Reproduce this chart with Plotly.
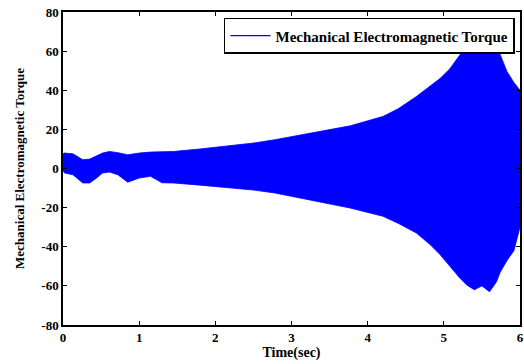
import plotly.graph_objects as go

# Time points (s) and envelope of the dense torque oscillation
time_s = [0.0, 0.02, 0.13, 0.26, 0.35, 0.44, 0.52, 0.61, 0.72, 0.85, 1.0, 1.15, 1.3,
          1.45, 1.8, 2.13, 2.5, 2.78, 3.1, 3.44, 3.77, 4.2, 4.4, 4.64, 4.82, 4.95,
          5.08, 5.21, 5.3, 5.4, 5.5, 5.6, 5.69, 5.74, 5.83, 5.92, 6.0]
upper = [7.5, 7.9, 7.5, 4.5, 4.8, 6.5, 7.9, 8.7, 8.1, 7.0, 7.9, 8.4, 8.5,
         8.7, 10.0, 11.3, 13.0, 14.7, 17.0, 19.5, 21.8, 26.6, 30.5, 36.8, 41.9, 46.0,
         51.0, 58.0, 62.0, 66.0, 68.0, 67.0, 63.0, 58.0, 49.5, 44.0, 40.0]
lower = [-1.0, -2.3, -3.2, -7.4, -7.4, -4.9, -2.3, -1.8, -3.2, -7.0, -4.9, -4.0, -7.3,
         -7.4, -8.5, -9.5, -11.0, -12.5, -15.0, -17.6, -20.2, -24.4, -28.0, -33.0, -38.9, -44.0,
         -50.0, -56.0, -59.5, -62.0, -60.0, -63.0, -58.0, -53.0, -47.0, -42.0, -30.0]

x_ticks = [0, 1, 2, 3, 4, 5, 6]
y_ticks = [80, 60, 40, 20, 0, -20, -40, -60, -80]

BLUE = "#0000FF"
FONT = "Liberation Serif"

fig = go.Figure()
fig.add_trace(go.Scatter(
    x=time_s + time_s[::-1],
    y=upper + lower[::-1],
    fill="toself", fillcolor=BLUE, mode="lines",
    line=dict(color=BLUE, width=0.8),
    showlegend=False, hoverinfo="skip"))
fig.add_trace(go.Scatter(
    x=[None], y=[None], mode="lines",
    line=dict(color=BLUE, width=1.2),
    name="<b>Mechanical Electromagnetic Torque</b>"))

axis_common = dict(
    showline=True, linecolor="black", linewidth=1.5, mirror="ticks",
    ticks="inside", ticklen=4, tickcolor="black", tickwidth=1,
    showgrid=False, zeroline=False, automargin=False,
    tickfont=dict(family=FONT, size=13, color="black"),
)

fig.update_layout(
    width=524, height=364,
    margin=dict(l=63, r=4, t=12, b=39),
    paper_bgcolor="white", plot_bgcolor="white",
    font=dict(family=FONT, color="black"),
    xaxis=dict(range=[0, 6], tickvals=x_ticks,
               ticktext=[f"<b>{v}</b>" for v in x_ticks],
               title=dict(text="<b>Time(sec)</b>", font=dict(family=FONT, size=14), standoff=0),
               **axis_common),
    yaxis=dict(range=[-80, 80], tickvals=y_ticks,
               ticktext=[f"<b>{v}</b>" for v in y_ticks],
               title=dict(text="<b>Mechanical Electromagnetic Torque</b>", font=dict(family=FONT, size=13), standoff=14),
               **axis_common),
    legend=dict(x=0.989, y=0.981, xanchor="right", yanchor="top",
                bgcolor="white", bordercolor="black", borderwidth=1.5,
                font=dict(family=FONT, size=15, color="black"),
                itemwidth=40, tracegroupgap=0),
    showlegend=True,
)

fig.write_html("out.html")
